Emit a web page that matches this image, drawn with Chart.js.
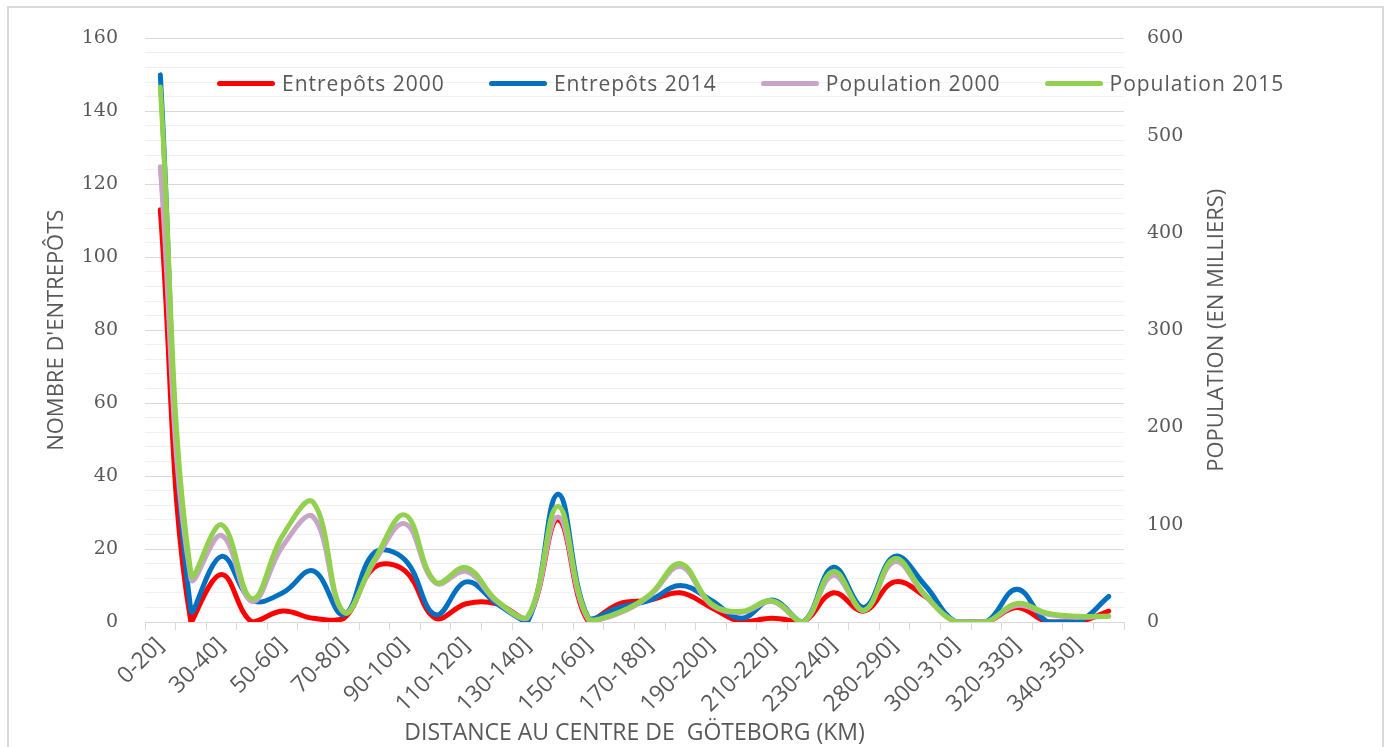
<!DOCTYPE html>
<html>
<head>
<meta charset="utf-8">
<script src="https://cdn.jsdelivr.net/npm/chart.js@4.4.0/dist/chart.umd.min.js"></script>
<style>
  html, body { margin: 0; padding: 0; background: #fff; }
  #cadre {
    position: absolute; left: 7px; top: 6px; width: 1377px; height: 760px;
    border: 2px solid #d9d9d9; box-sizing: border-box;
  }
  #zone { position: absolute; left: 0; top: 0; width: 1387px; height: 747px; }
  #legende {
    position: absolute; top: 69px; left: 217px; display: flex;
    font-family: "Open Sans"; font-size: 21px; color: #595959; letter-spacing: 1px;
  }
  .item { display: flex; align-items: center; margin-right: 44px; height: 28px; }
  .trait { width: 58px; height: 5px; border-radius: 3px; margin-right: 7px; }
</style>
</head>
<body>
<div id="cadre"></div>
<div id="zone"><canvas id="graphique" width="1387" height="747"></canvas></div>
<div id="legende"></div>
<script>
const categories = [
  "0-20]", "20-30]", "30-40]", "40-50]", "50-60]", "60-70]", "70-80]", "80-90]",
  "90-100]", "100-110]", "110-120]", "120-130]", "130-140]", "140-150]", "150-160]", "160-170]",
  "170-180]", "180-190]", "190-200]", "200-210]", "210-220]", "220-230]", "230-240]", "240-280]",
  "280-290]", "290-300]", "300-310]", "310-320]", "320-330]", "330-340]", "340-350]", "350-360]"
];

// nombre d'entrepôts (axe gauche)
const entrepots2000 = [113, 0, 13, 0, 3, 1, 1, 15, 14, 1, 5, 5, 1, 28, 0, 5,
                       6, 8, 4, 0, 1, 0, 8, 3, 11, 7, 0, 0, 4, 0, 0, 3];
const entrepots2014 = [150, 3, 18, 6, 8, 14, 2, 19, 17, 2, 11, 5, 0, 35, 1, 4,
                       6, 10, 6, 1, 6, 0, 15, 4, 18, 10, 0, 0, 9, 0, 0, 7];

// population en milliers (axe droit)
const population2000 = [468, 45, 89, 21, 78, 108, 10, 62, 101, 40, 52, 21, 4, 108, 2, 9,
                        27, 57, 18, 10, 21, 0, 48, 12, 62, 27, 0, 0, 17, 8, 5, 6];
const population2015 = [550, 50, 100, 24, 89, 123, 10, 64, 110, 41, 56, 22, 5, 119, 3, 10,
                        28, 60, 19, 11, 22, 0, 52, 12, 65, 28, 0, 0, 19, 9, 6, 6];

const gris = "#595959";

const series = [
  { label: "Entrepôts 2000", data: entrepots2000, color: "#ff0000", axe: "y", ordre: 4 },
  { label: "Entrepôts 2014", data: entrepots2014, color: "#0070c0", axe: "y", ordre: 3 },
  { label: "Population 2000", data: population2000, color: "#c6a5c6", axe: "y1", ordre: 2 },
  { label: "Population 2015", data: population2015, color: "#92d050", axe: "y1", ordre: 1 }
];

// légende posée sur le graphique, comme dans Excel
const legende = document.getElementById("legende");
series.forEach(s => {
  const item = document.createElement("div");
  item.className = "item";
  item.innerHTML = '<span class="trait" style="background:' + s.color + '"></span>' + s.label;
  legende.appendChild(item);
});

const titreDroite = {
  id: "titreDroite",
  afterDraw(chart) {
    const ctx = chart.ctx;
    const s = chart.scales.y1;
    ctx.save();
    ctx.translate(s.left + 93, (s.top + s.bottom) / 2);
    ctx.rotate(-Math.PI / 2);
    ctx.font = '22px "Open Sans"';
    ctx.fillStyle = gris;
    ctx.textAlign = "center";
    ctx.textBaseline = "middle";
    ctx.fillText("POPULATION (EN MILLIERS)", 0, 0);
    ctx.restore();
  }
};

new Chart(document.getElementById("graphique"), {
  type: "line",
  data: {
    labels: categories,
    datasets: series.map(s => ({
      label: s.label,
      data: s.data,
      yAxisID: s.axe,
      order: s.ordre,
      borderColor: s.color,
      backgroundColor: s.color,
      borderWidth: 5,
      borderCapStyle: "round",
      borderJoinStyle: "round",
      pointRadius: 0,
      tension: 0.4,
      fill: false
    }))
  },
  options: {
    responsive: false,
    animation: false,
    layout: { padding: { left: 36, top: 38, right: 0, bottom: 0 } },
    plugins: {
      legend: { display: false },
      tooltip: { enabled: false }
    },
    scales: {
      x: {
        offset: true,
        afterFit: sc => { sc.height = 125; },
        grid: {
          offset: true,
          drawOnChartArea: false,
          drawTicks: true,
          tickLength: 8,
          color: "#d9d9d9"
        },
        border: { color: "#d9d9d9" },
        ticks: {
          autoSkip: false,
          minRotation: 45,
          maxRotation: 45,
          padding: 2,
          color: gris,
          font: { family: "Open Sans", size: 23 },
          callback: (v, i) => (i % 2 === 0 ? categories[i] : "")
        },
        title: {
          display: true,
          text: "DISTANCE AU CENTRE DE  GÖTEBORG (KM)",
          color: gris,
          font: { family: "Open Sans", size: 23 },
          padding: { top: 0, bottom: 0 }
        }
      },
      y: {
        position: "left",
        min: 0,
        max: 160,
        afterFit: sc => { sc.width = 109; },
        border: { display: false },
        grid: {
          drawTicks: false,
          color: c => (c.tick.value % 20 === 0 ? "#d9d9d9" : "#f0f0f0")
        },
        ticks: {
          stepSize: 4,
          autoSkip: false,
          maxTicksLimit: 60,
          padding: 27,
          color: gris,
          font: { family: "DejaVu Serif", size: 19 },
          callback: v => (v % 20 === 0 ? v : "")
        },
        title: {
          display: true,
          text: "NOMBRE D'ENTREPÔTS",
          color: gris,
          font: { family: "Open Sans", size: 22 },
          padding: { top: 8, bottom: 0 }
        }
      },
      y1: {
        position: "right",
        min: 0,
        max: 600,
        afterFit: sc => { sc.width = 263; },
        border: { display: false },
        grid: { drawOnChartArea: false, drawTicks: false },
        ticks: {
          stepSize: 100,
          padding: 23,
          color: gris,
          font: { family: "DejaVu Serif", size: 19 }
        }
      }
    }
  },
  plugins: [titreDroite]
});
</script>
</body>
</html>
